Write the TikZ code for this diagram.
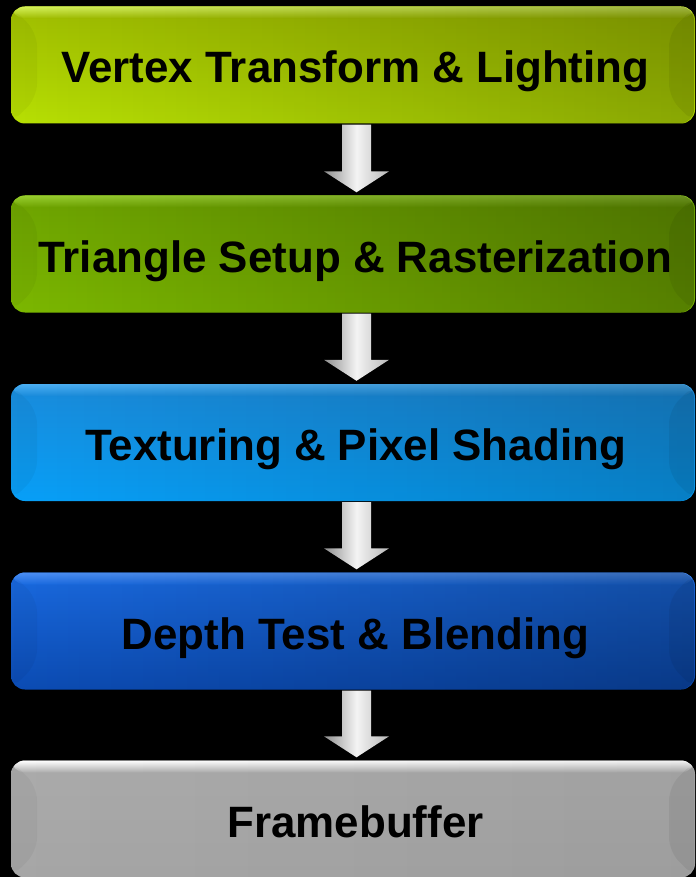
\documentclass[tikz,border=0pt]{standalone}
\usepackage{fontspec}
\setmainfont{Liberation Sans}
\usetikzlibrary{calc,fadings}

% darkening that grows from left to right across a stage
\tikzfading[name=fade right, left color=transparent!100, right color=transparent!0]

\definecolor{vtHi}{HTML}{D6F25A}\definecolor{vtUp}{HTML}{A0BE00}\definecolor{vtLo}{HTML}{B8E004}
\definecolor{trHi}{HTML}{9AD030}\definecolor{trUp}{HTML}{6EA400}\definecolor{trLo}{HTML}{7CB800}
\definecolor{txHi}{HTML}{4CB0F4}\definecolor{txUp}{HTML}{1A8CDC}\definecolor{txLo}{HTML}{08A0F8}
\definecolor{dpHi}{HTML}{4C90F4}\definecolor{dpUp}{HTML}{1A6AE0}\definecolor{dpLo}{HTML}{0C4CB4}
\definecolor{fbHi}{HTML}{FFFFFF}\definecolor{fbUp}{HTML}{ABABAB}\definecolor{fbLo}{HTML}{A6A6A6}
\definecolor{arEdgeL}{HTML}{8E8E8E}\definecolor{arMid}{HTML}{F4F4F4}\definecolor{arEdgeR}{HTML}{B8B8B8}

\tikzset{
  % glossy bevelled stage box: #1 highlight, #2 upper body, #3 lower body, #4 right-side darkening
  stage/.style n args={4}{
    minimum width=684pt, minimum height=117pt, inner sep=0pt,
    text height=36pt, text depth=0pt,
    rounded corners=14pt, text=black,
    font=\bfseries\fontsize{43.9}{50}\selectfont,
    path picture={
      \coordinate (nw) at (path picture bounding box.north west);
      \coordinate (se) at (path picture bounding box.south east);
      \coordinate (ne) at (nw -| se);
      \coordinate (sw) at (nw |- se);
      \shade[top color=#2, bottom color=#3] (nw) rectangle (se);
      \shade[top color=#1, bottom color=#2] (nw) rectangle ($(ne)+(0pt,-12pt)$);
      \fill[black, fill opacity=#4, path fading=fade right] (nw) rectangle (se);
      % side bevels
      \fill[black, fill opacity=0.04] (nw) -- ($(nw)+(26pt,-26pt)$) -- ($(sw)+(26pt,26pt)$) -- (sw) -- cycle;
      \fill[black, fill opacity=0.06] (ne) -- ($(ne)+(-26pt,-26pt)$) -- ($(se)+(-26pt,26pt)$) -- (se) -- cycle;
    }
  },
  flowarrow/.style={left color=arEdgeL, right color=arEdgeR, middle color=arMid, draw=none}
}

\begin{document}
\begin{tikzpicture}[x=1pt, y=-1pt]
  \useasboundingbox (0,0) rectangle (696,877);
  \fill[black] (0,0) rectangle (696,877);

  \node[stage={vtHi}{vtUp}{vtLo}{0.25}] (b1) at (353,65)    {\hspace*{5pt}Vertex Transform \& Lighting};
  \node[stage={trHi}{trUp}{trLo}{0.30}] (b2) at (353,254)   {\hspace*{5pt}Triangle Setup \& Rasterization};
  \node[stage={txHi}{txUp}{txLo}{0.20}] (b3) at (353,442.5) {\hspace*{5pt}Texturing \& Pixel Shading};
  \node[stage={dpHi}{dpUp}{dpLo}{0.25}] (b4) at (353,631)   {\hspace*{5pt}Depth Test \& Blending};
  \node[stage={fbHi}{fbUp}{fbLo}{0.05}] (b5) at (353,819)   {\hspace*{5pt}Framebuffer};

  % block arrows between consecutive stages
  \foreach \a/\b in {b1/b2, b2/b3, b3/b4, b4/b5} {
    \coordinate (s-\a) at ($(\a.south)+(3.5pt,-1pt)$);
    \coordinate (t-\a) at ($(\b.north)+(3.5pt,3pt)$);
    \shade[flowarrow]
      ($(s-\a)+(-14.5pt,0pt)$) -- ($(t-\a)+(-14.5pt,21pt)$) -- ($(t-\a)+(-32.5pt,21pt)$)
      -- (t-\a) -- ($(t-\a)+(32.5pt,21pt)$) -- ($(t-\a)+(14.5pt,21pt)$)
      -- ($(s-\a)+(14.5pt,0pt)$) -- cycle;
  }
\end{tikzpicture}
\end{document}
